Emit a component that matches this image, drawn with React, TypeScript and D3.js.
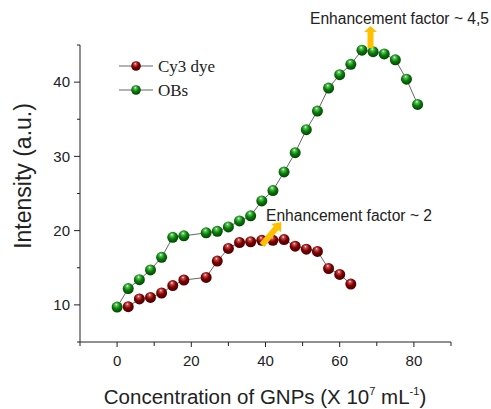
import React from 'react';
import * as d3 from 'd3';

// concentration of GNPs (x 10^7 mL^-1)
const cy3X = [3, 6, 9, 12, 15, 18, 24, 27, 30, 33, 36, 39, 42, 45, 48, 51, 54, 57, 60, 63];
const cy3Y = [9.75, 10.8, 11.0, 11.6, 12.6, 13.35, 13.7, 15.9, 17.6, 18.4, 18.5, 18.7, 18.7, 18.8, 17.9, 17.5, 17.2, 14.9, 14.1, 12.8];

const obsX = [0, 3, 6, 9, 12, 15, 18, 24, 27, 30, 33, 36, 39, 42, 45, 48, 51, 54, 57, 60, 63, 66, 69, 72, 75, 78, 81];
const obsY = [9.7, 12.2, 13.4, 14.7, 16.4, 19.1, 19.3, 19.7, 19.9, 20.5, 21.3, 22.0, 24.0, 25.4, 27.9, 30.5, 33.6, 36.1, 39.2, 41.0, 42.4, 44.3, 44.1, 43.8, 43.0, 40.4, 37.0];

const xTicks = [0, 20, 40, 60, 80];
const yTicks = [10, 20, 30, 40];

const series = [
  { name: 'Cy3 dye', xs: cy3X, ys: cy3Y, id: 'red', base: '#7d0000', light: '#d05050', dark: '#4a0000' },
  { name: 'OBs', xs: obsX, ys: obsY, id: 'green', base: '#0a7d0a', light: '#5cc85c', dark: '#004400' },
];

const W = 491;
const H = 409;
const axisFont = '"Liberation Sans", Arial, sans-serif';

const App: React.FC = () => {
  const x = d3.scaleLinear().domain([-10, 90]).range([80, 451]);
  const y = d3.scaleLinear().domain([5, 45]).range([342, 45]);

  const line = d3
    .line<[number, number]>()
    .x((d) => x(d[0]))
    .y((d) => y(d[1]));

  const minorX = d3.range(-10, 91, 10);
  const minorY = d3.range(5, 46, 5);

  return (
    <svg width={W} height={H} style={{ position: 'absolute', left: 0, top: 0, background: '#fff' }}>
      <defs>
        {series.map((s) => (
          <radialGradient key={s.id} id={`ball-${s.id}`} cx="45%" cy="40%" r="60%" fx="42%" fy="25%">
            <stop offset="0%" stopColor="#ffffff" />
            <stop offset="18%" stopColor={s.light} />
            <stop offset="55%" stopColor={s.base} />
            <stop offset="100%" stopColor={s.dark} />
          </radialGradient>
        ))}
      </defs>

      {/* axes */}
      <g stroke="#222" strokeWidth={1} fill="none">
        <line x1={80} x2={80} y1={45} y2={342} />
        <line x1={80} x2={451} y1={342} y2={342} />
        {minorY.map((v) => (
          <line key={v} x1={80} x2={v % 10 === 0 ? 74 : 77} y1={y(v)} y2={y(v)} />
        ))}
        {minorX.map((v) => (
          <line key={v} x1={x(v)} x2={x(v)} y1={342} y2={v % 20 === 0 ? 347 : 346} />
        ))}
      </g>
      <g fontFamily={axisFont} fontSize={15} fill="#222">
        {yTicks.map((v) => (
          <text key={v} x={70} y={y(v)} dy="0.35em" textAnchor="end">
            {v}
          </text>
        ))}
        {xTicks.map((v) => (
          <text key={v} x={x(v)} y={366} textAnchor="middle">
            {v}
          </text>
        ))}
      </g>

      {/* axis titles */}
      <text
        transform="translate(31,176) rotate(-90)"
        textAnchor="middle"
        fontFamily={axisFont}
        fontSize={23}
        fill="#222"
      >
        Intensity (a.u.)
      </text>
      <text x={265} y={404} textAnchor="middle" fontFamily={axisFont} fontSize={20.5} fill="#222">
        Concentration of GNPs (X 10
        <tspan dy={-9} fontSize={11}>7</tspan>
        <tspan dy={9}> mL</tspan>
        <tspan dy={-9} fontSize={11}>-1</tspan>
        <tspan dy={9}>)</tspan>
      </text>

      {/* series */}
      {series.map((s) => {
        const pts = s.xs.map((v, i) => [v, s.ys[i]] as [number, number]);
        return (
          <g key={s.id}>
            <path d={line(pts) || ''} fill="none" stroke="#555" strokeWidth={0.9} />
            {pts.map((p, i) => (
              <circle key={i} cx={x(p[0])} cy={y(p[1])} r={5.5} fill={`url(#ball-${s.id})`} />
            ))}
          </g>
        );
      })}

      {/* legend */}
      {series.map((s, i) => (
        <g key={s.id} transform={`translate(0,${66 + i * 24})`}>
          <line x1={119} x2={153} y1={0} y2={0} stroke="#555" strokeWidth={0.9} />
          <circle cx={136} cy={0} r={4.8} fill={`url(#ball-${s.id})`} />
          <text x={158} y={6} fontFamily='"Liberation Serif", "Times New Roman", serif' fontSize={17} fill="#222">
            {s.name}
          </text>
        </g>
      ))}

      {/* annotations */}
      <g fill="#ffc000">
        <polygon points="367.5,48 373.5,48 373.5,32 377,32 370.5,26 364,32 367.5,32" />
        <g transform="translate(262,245) rotate(-50)">
          <polygon points="0,-3 22,-3 22,-6.5 30,0 22,6.5 22,3 0,3" />
        </g>
      </g>
      <g fontFamily={axisFont} fontSize={15.6} fill="#222">
        <text x={310} y={24}>Enhancement factor ~ 4,5</text>
        <text x={266} y={221}>Enhancement factor ~ 2</text>
      </g>
    </svg>
  );
};

export default App;
